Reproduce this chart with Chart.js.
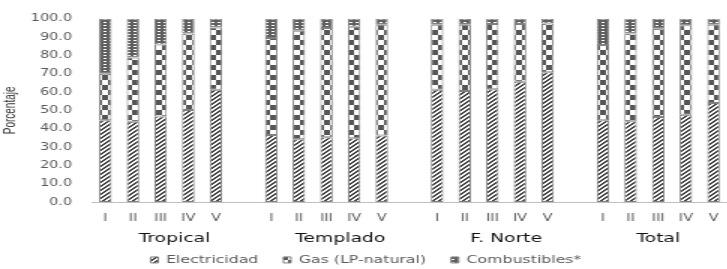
<!DOCTYPE html>
<html>
<head>
<meta charset="utf-8">
<script src="https://cdn.jsdelivr.net/npm/chart.js@4.4.1/dist/chart.umd.min.js"></script>
<style>
  html, body { margin: 0; padding: 0; overflow: hidden; background: #fff; }
  /* the reference is a horizontally stretched picture, so draw narrow and stretch */
  #wrap { width: 490px; height: 269px; transform: scaleX(1.5); transform-origin: 0 0; }
</style>
</head>
<body>
<div id="wrap"><canvas id="myChart"></canvas></div>
<script>
// categories: five quintiles per region, with an empty slot between regions
const categories = ['I', 'II', 'III', 'IV', 'V', '',
                    'I', 'II', 'III', 'IV', 'V', '',
                    'I', 'II', 'III', 'IV', 'V', '',
                    'I', 'II', 'III', 'IV', 'V'];
const groups = ['Tropical', 'Templado', 'F. Norte', 'Total'];
const yTicks = [0, 10, 20, 30, 40, 50, 60, 70, 80, 90, 100];

const electricidad = [44.6, 43.8, 46.6, 50.2, 61.2, null,
                      36.6, 34.3, 35.4, 34.8, 36.3, null,
                      61.2, 60.6, 61.5, 65.6, 70.8, null,
                      44.6, 44.1, 46.4, 47.6, 54.0];
const gas = [25.4, 35.0, 39.4, 41.7, 34.0, null,
             52.9, 59.2, 59.5, 60.8, 60.4, null,
             35.5, 36.1, 35.6, 31.5, 26.6, null,
             41.1, 47.8, 48.2, 48.8, 42.7];
const combustibles = [30.0, 21.2, 14.0, 8.1, 4.8, null,
                      10.5, 6.5, 5.1, 4.4, 3.3, null,
                      3.3, 3.3, 2.9, 2.9, 2.6, null,
                      14.3, 8.1, 5.4, 3.6, 3.3];

// fill patterns
function makePattern(w, h, paint) {
    const c = document.createElement('canvas');
    c.width = w; c.height = h;
    const g = c.getContext('2d');
    g.fillStyle = '#fff';
    g.fillRect(0, 0, w, h);
    paint(g);
    return document.getElementById('myChart').getContext('2d').createPattern(c, 'repeat');
}
const stripes = makePattern(4, 4, g => {
    g.fillStyle = '#444444';
    for (let x = 0; x < 4; x++)
        for (let y = 0; y < 4; y++)
            if ((x + y) % 4 < 2) g.fillRect(x, y, 1, 1);
});
const checker = makePattern(8, 10, g => {
    g.fillStyle = '#555555';
    g.fillRect(0, 0, 4, 5);
    g.fillRect(4, 5, 4, 5);
});
const dots = makePattern(4, 3, g => {
    g.fillStyle = '#606060';
    g.fillRect(0, 0, 4, 3);
    g.fillStyle = '#ffffff';
    g.fillRect(1, 1, 2, 1);
});

const groupLabels = {
    id: 'groupLabels',
    afterDraw(chart) {
        const x = chart.scales.x;
        const ctx = chart.ctx;
        const starts = [];
        categories.forEach((c, i) => { if (c === 'I') starts.push(i); });
        ctx.save();
        ctx.font = '12.5px "DejaVu Sans"';
        ctx.fillStyle = '#111111';
        ctx.textAlign = 'center';
        ctx.textBaseline = 'middle';
        starts.forEach((s, g) => {
            const e = g + 1 < starts.length ? starts[g + 1] - 1 : categories.length - 1;
            const cx = (x.getPixelForValue(s) + x.getPixelForValue(e)) / 2;
            ctx.fillText(groups[g], cx, 239);
        });
        ctx.restore();
    }
};

const tickFont = { family: 'DejaVu Sans', size: 9.6 };
const ctx = document.getElementById('myChart').getContext('2d');
const myChart = new Chart(ctx, {
    type: 'bar',
    data: {
        labels: categories,
        datasets: [
            { label: 'Electricidad', data: electricidad, backgroundColor: stripes },
            { label: 'Gas (LP-natural)', data: gas, backgroundColor: checker },
            { label: 'Combustibles*', data: combustibles, backgroundColor: dots }
        ]
    },
    options: {
        responsive: true,
        maintainAspectRatio: false,
        animation: false,
        devicePixelRatio: 1,
        layout: { padding: { top: 14.5, right: 2, left: 0, bottom: 0 } },
        datasets: {
            bar: {
                borderColor: '#7f7f7f',
                borderWidth: 1,
                borderSkipped: false,
                barPercentage: 0.45,
                categoryPercentage: 1
            }
        },
        plugins: {
            tooltip: { enabled: false },
            legend: {
                position: 'bottom',
                maxHeight: 31,
                labels: {
                    boxWidth: 5,
                    boxHeight: 6,
                    padding: 16.7,
                    color: '#595959',
                    font: { family: 'DejaVu Sans', size: 10.5 }
                }
            }
        },
        scales: {
            x: {
                stacked: true,
                grid: { display: false, drawTicks: false },
                border: { display: true, color: '#bfbfbf', width: 1 },
                ticks: { color: '#595959', font: tickFont, padding: 11, autoSkip: false, maxRotation: 0 },
                afterFit: s => { s.height = 36; }
            },
            y: {
                stacked: true,
                min: 0,
                max: 100,
                grid: { display: false, drawTicks: false },
                border: { display: false },
                afterBuildTicks: s => { s.ticks = yTicks.map(v => ({ value: v })); },
                ticks: {
                    color: '#595959',
                    font: tickFont,
                    padding: 13,
                    autoSkip: false,
                    callback: v => Number(v).toFixed(1)
                },
                title: {
                    display: true,
                    text: 'Porcentaje',
                    color: '#333333',
                    font: { family: 'Liberation Sans', size: 10 },
                    padding: { top: 1, bottom: 0 }
                },
                afterFit: s => { s.width = 61; }
            }
        }
    },
    plugins: [groupLabels]
});
</script>
</body>
</html>
